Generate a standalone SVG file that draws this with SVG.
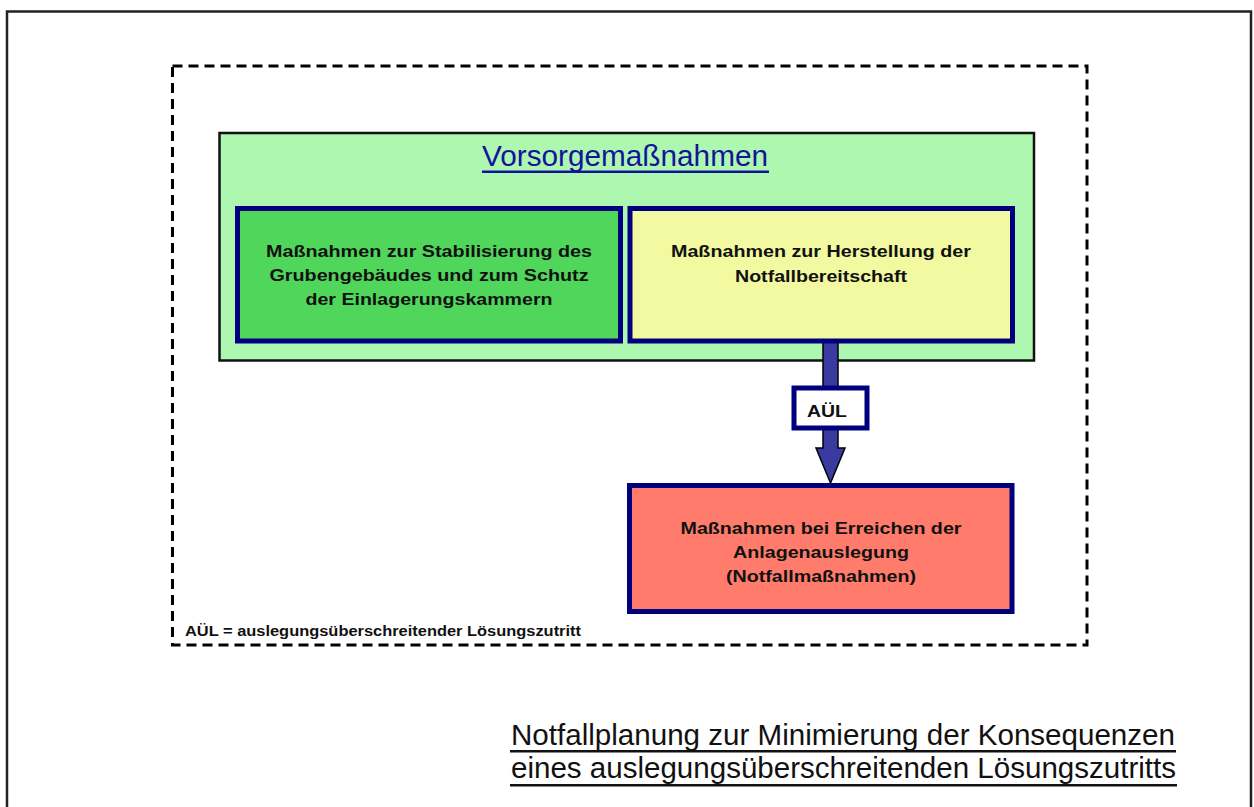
<svg xmlns="http://www.w3.org/2000/svg" width="1254" height="807" viewBox="0 0 1254 807">
<style>
.bt{font-family:"Liberation Sans",Arial,sans-serif;font-weight:bold;font-size:16.5px;fill:#111;text-anchor:middle}
.nb{stroke:#00007f;stroke-width:5}
</style>
<rect width="1254" height="807" fill="#fff"/>
<path d="M7 820 V11.5 H1251 V820" fill="none" stroke="#222" stroke-width="2.5"/>
<rect id="frame" x="172.5" y="66" width="914.5" height="579" fill="none" stroke="#000" stroke-width="3" stroke-dasharray="10 6"/>
<g id="vorsorge">
<rect x="219.5" y="133" width="814.5" height="227.5" fill="#adf7b1" stroke="#111" stroke-width="2.5"/>
<text x="625" y="166" font-family="Liberation Sans,Arial,sans-serif" font-size="29" fill="#14149a" text-anchor="middle" textLength="286" lengthAdjust="spacingAndGlyphs">Vorsorgemaßnahmen</text>
<rect x="482" y="170.5" width="287" height="2.5" fill="#14149a"/>
</g>
<g id="connectors">
<path d="M823 342 H838 V448 H845 L830.5 483 L816 448 H823 Z" fill="#3a3aa0" stroke="#000" stroke-width="1.5"/>
</g>
<g id="stabil">
<rect class="nb" x="237.5" y="208.5" width="383" height="132.5" fill="#50d65a"/>
<text class="bt" x="429" y="257" textLength="326" lengthAdjust="spacingAndGlyphs">Maßnahmen zur Stabilisierung des</text>
<text class="bt" x="429" y="281" textLength="319" lengthAdjust="spacingAndGlyphs">Grubengebäudes und zum Schutz</text>
<text class="bt" x="429" y="305" textLength="247" lengthAdjust="spacingAndGlyphs">der Einlagerungskammern</text>
</g>
<g id="bereitschaft">
<rect class="nb" x="630" y="208.5" width="382.5" height="132.5" fill="#f2f9a0"/>
<text class="bt" x="821" y="257" textLength="300" lengthAdjust="spacingAndGlyphs">Maßnahmen zur Herstellung der</text>
<text class="bt" x="821" y="282" textLength="172" lengthAdjust="spacingAndGlyphs">Notfallbereitschaft</text>
</g>
<g id="aul">
<rect class="nb" x="794" y="388" width="73" height="40" fill="#fff"/>
<text class="bt" x="827" y="417" textLength="40" lengthAdjust="spacingAndGlyphs">AÜL</text>
</g>
<g id="notfall">
<rect class="nb" x="629.5" y="485.5" width="382.5" height="126" fill="#ff7b6b"/>
<text class="bt" x="821" y="534" textLength="281" lengthAdjust="spacingAndGlyphs">Maßnahmen bei Erreichen der</text>
<text class="bt" x="821" y="558" textLength="176" lengthAdjust="spacingAndGlyphs">Anlagenauslegung</text>
<text class="bt" x="821" y="582" textLength="190" lengthAdjust="spacingAndGlyphs">(Notfallmaßnahmen)</text>
</g>
<text x="185" y="636" font-family="Liberation Sans,Arial,sans-serif" font-weight="bold" font-size="14" fill="#111" textLength="396" lengthAdjust="spacingAndGlyphs">AÜL = auslegungsüberschreitender Lösungszutritt</text>
<g id="title" font-family="Liberation Sans,Arial,sans-serif" font-size="29" fill="#111">
<text x="511" y="745" textLength="664" lengthAdjust="spacingAndGlyphs">Notfallplanung zur Minimierung der Konsequenzen</text>
<rect x="510" y="750" width="666" height="2.5" fill="#111"/>
<text x="511" y="778" textLength="665" lengthAdjust="spacingAndGlyphs">eines auslegungsüberschreitenden Lösungszutritts</text>
<rect x="510" y="784" width="667" height="2.5" fill="#111"/>
</g>
</svg>
